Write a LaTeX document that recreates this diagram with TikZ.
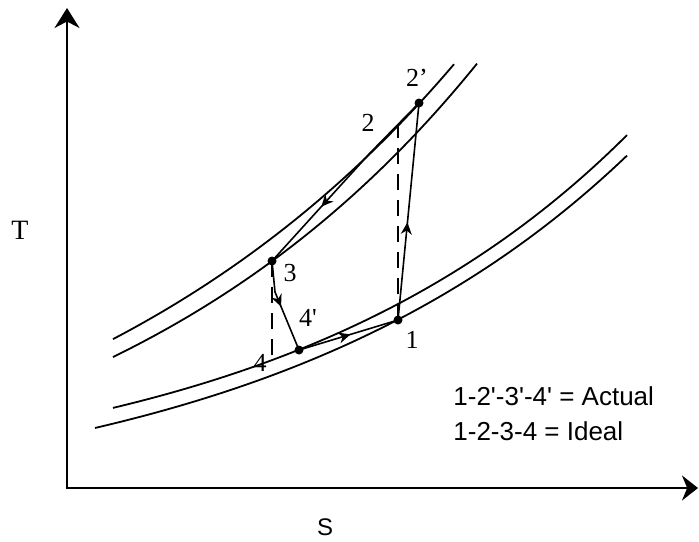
\documentclass[tikz,border=0pt]{standalone}
\usepackage{fontspec}
\setmainfont{Liberation Serif}
\newfontfamily\legendfont{Liberation Sans}
\usetikzlibrary{arrows.meta,decorations.markings}

\tikzset{
  axis/.style={line width=1pt,{Stealth[length=10pt,width=12.5pt]}-{Stealth[length=8pt,width=12.5pt]}},
  isobar/.style={line width=0.9pt},
  dot/.style={circle,fill,inner sep=0pt,minimum size=4.5pt},
  ideal/.style={line width=0.8pt,dash pattern=on 8pt off 5pt},
  flow/.style={line width=0.8pt,postaction={decorate},
    decoration={markings,mark=at position #1 with {\arrow{Stealth[length=6pt,width=5.5pt]}}}},
  flow/.default=0.5,
  lbl/.style={font=\fontsize{13}{15}\selectfont,inner sep=0pt},
}

\begin{document}
\begin{tikzpicture}[x=0.5pt,y=-0.5pt]
\useasboundingbox (0,0) rectangle (699,541);
% axes
\coordinate (tmax) at (67,8);
\coordinate (orig) at (67,488);
\coordinate (smax) at (698,488);
\draw[axis] (tmax) -- (orig) -- (smax);
\node[font=\fontsize{14}{16}\selectfont,inner sep=0pt] (tlabel) at (20,230) {T};
\node[font=\legendfont\fontsize{12}{14}\selectfont,inner sep=0pt] (slabel) at (325,527) {S};
% constant pressure lines
\draw[isobar] plot[domain=113:454,samples=60] (\x,{560.8-169.7*exp(0.00237*\x)});
\draw[isobar] plot[domain=113:477,samples=60] (\x,{549.0-143.95*exp(0.00255*\x)});
\draw[isobar] plot[domain=113:627,samples=60] (\x,{494.0-62.92*exp(0.00277*\x)});
\draw[isobar] plot[domain=95:627,samples=60] (\x,{515.66-68.15*exp(0.00265*\x)});
% state points
\coordinate (p1) at (398,320);
\coordinate (p2) at (398,125);
\coordinate (p2s) at (419,103);
\coordinate (p3) at (272,261);
\coordinate (p4) at (272,360);
\coordinate (p4s) at (299,350);
\coordinate (k23) at (370,153);
\coordinate (k34) at (275,292);
% actual cycle
\draw[flow=0.45] (p1) -- (p2s);
\draw[flow=0.66] (p2s) -- (k23) -- (p3);
\draw[flow=0.5] (p3) -- (k34) -- (p4s);
\draw[flow=0.52] (p4s) -- (p1);
% ideal cycle
\draw[ideal] (p1) -- (p2);
\draw[ideal] (p3) -- (p4);
\foreach \p in {p1,p2s,p3,p4s}
  \node[dot] at (\p) {};
\node[lbl] (l1) at (412,340) {1};
\node[lbl] (l2) at (368,123) {2};
\node[lbl] (l2s) at (417,78) {2'};
\node[lbl] (l3) at (290,273) {3};
\node[lbl] (l4s) at (308,318) {4\textquotesingle};
\node[lbl] (l4) at (260,363) {4};
% legend
\node[anchor=west,align=left,inner sep=0pt,font=\legendfont\fontsize{13}{17.5}\selectfont] (legend) at (453,414)
  {1-2\textquotesingle-3\textquotesingle-4\textquotesingle{} = Actual\\1-2-3-4 = Ideal};
\end{tikzpicture}
\end{document}
